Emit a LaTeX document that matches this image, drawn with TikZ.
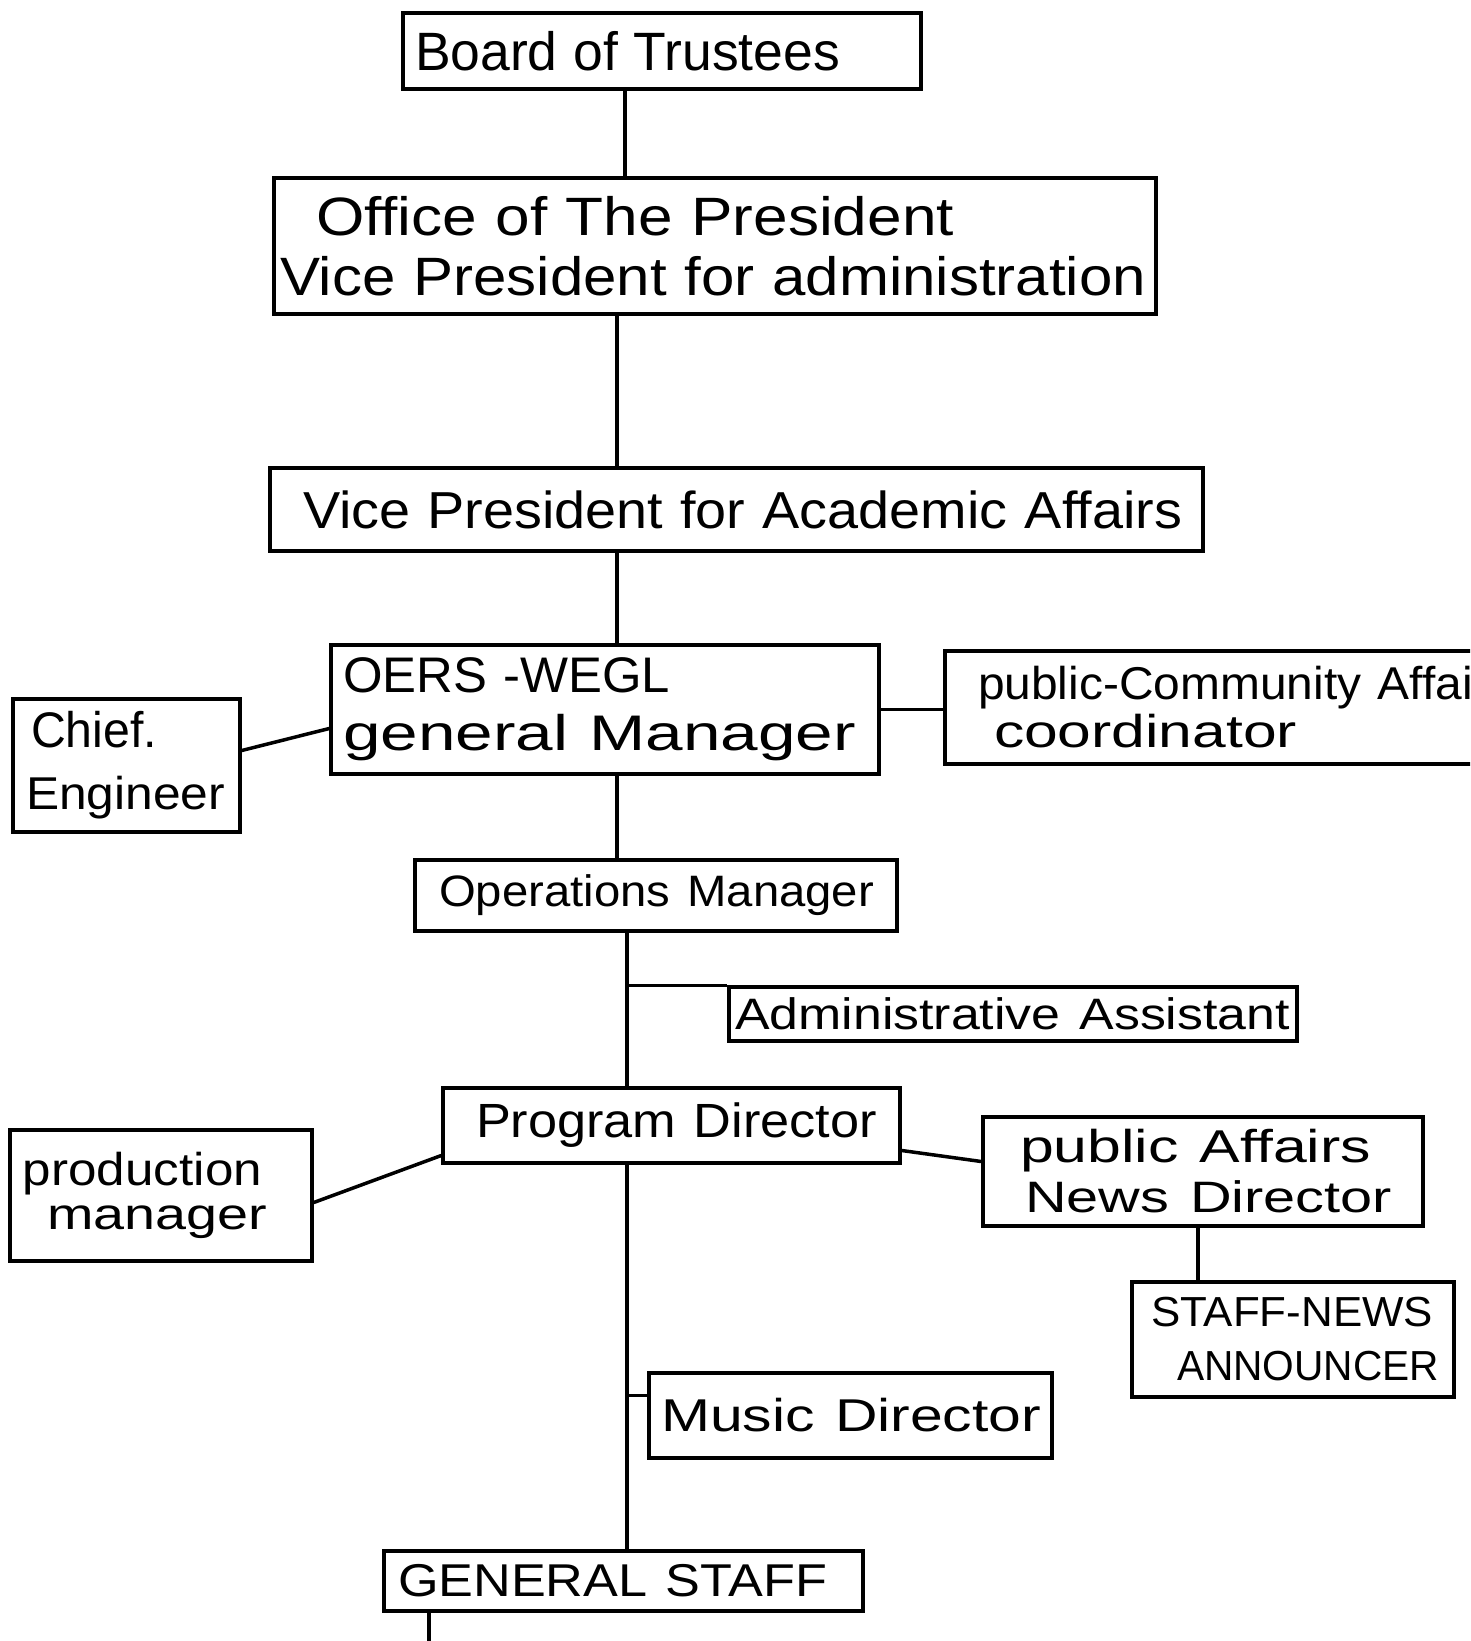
\documentclass[tikz,border=0pt]{standalone}
\usepackage{fontspec}
\usepackage{graphicx}
\setmainfont{Liberation Sans}
% one line of text: font size, target width, text (width scaled, height kept)
\newcommand\txtline[3]{{\fontsize{#1}{#1}\selectfont\resizebox{#2pt}{\height}{#3}}}
\tikzset{
  box/.style={draw, line width=3.5pt, rectangle, inner sep=0pt, align=left,
    font=\fontsize{48}{58}\selectfont},
  lsk/.style={font=\fontsize{48}{#1}\selectfont},
  link/.style={line width=3.5pt},
}
\begin{document}
\lineskiplimit=-200pt
\begin{tikzpicture}[x=1pt,y=-1pt]
\useasboundingbox (0,0) rectangle (1470,1641);
\fill[white] (0,0) rectangle (1470,1641);
\clip (0,0) rectangle (1470,1641);

\node[box, minimum width=518pt, minimum height=76pt, text width=518pt] (board) at (662,51)
  {\hspace*{12pt}\txtline{54}{425}{Board of Trustees}};
\node[box, lsk=60, minimum width=882pt, minimum height=136pt, text width=882pt] (office) at (715,246)
  {\hspace*{42pt}\txtline{54}{638}{Office of The President}\\
   \hspace*{6pt}\txtline{54}{866}{Vice President for administration}};
\node[box, minimum width=933pt, minimum height=83pt, text width=933pt] (vpaa) at (736.5,509.5)
  {\hspace*{33pt}\txtline{52}{879}{Vice President for Academic Affairs}};
\node[box, lsk=58, minimum width=548pt, minimum height=129pt, text width=548pt] (gm) at (605,709.5)
  {\hspace*{12pt}\txtline{50}{327}{OERS -WEGL}\\
   \hspace*{12pt}\txtline{50}{513}{general Manager}};
\node[box, lsk=62, minimum width=227pt, minimum height=133pt, text width=227pt] (chief) at (126.5,765.5)
  {\hspace*{18pt}\txtline{50}{126}{Chief.}\\
   \hspace*{13pt}\txtline{46}{199}{Engineer}};
\node[box, lsk=48, minimum width=575pt, minimum height=113pt, text width=575pt] (coord) at (1232.5,707.5)
  {\hspace*{33pt}\txtline{46}{535}{public-Community Affairs}\\
   \hspace*{49pt}\txtline{46}{303}{coordinator}};
\node[box, minimum width=482pt, minimum height=71pt, text width=482pt] (ops) at (656,895.5)
  {\hspace*{24pt}\txtline{44}{435}{Operations Manager}};
\node[box, minimum width=568pt, minimum height=54pt, text width=568pt] (admin) at (1013,1014)
  {\hspace*{6pt}\txtline{44}{555}{Administrative Assistant}};
\node[box, minimum width=457pt, minimum height=75pt, text width=457pt] (program) at (671.5,1125.5)
  {\hspace*{33pt}\txtline{48}{401}{Program Director}};
\node[box, lsk=44, minimum width=302pt, minimum height=131pt, text width=302pt] (production) at (161,1195.5)
  {\hspace*{13pt}\txtline{46}{239}{production}\\
   \hspace*{37pt}\txtline{44}{220}{manager}};
\node[box, lsk=50, minimum width=440pt, minimum height=109pt, text width=440pt] (news) at (1203,1171.5)
  {\hspace*{37pt}\txtline{46}{351}{public Affairs}\\
   \hspace*{42pt}\txtline{44}{367}{News Director}};
\node[box, lsk=54, minimum width=322pt, minimum height=115pt, text width=322pt] (staff) at (1293,1339.5)
  {\hspace*{19pt}\txtline{42}{282}{STAFF-NEWS}\\
   \hspace*{45pt}\txtline{42}{262}{ANNOUNCER}};
\node[box, minimum width=403pt, minimum height=85pt, text width=403pt] (music) at (850.5,1415.5)
  {\hspace*{12pt}\txtline{46}{380}{Music Director}};
\node[box, minimum width=479pt, minimum height=60pt, text width=479pt] (general) at (623.5,1581)
  {\hspace*{14pt}\txtline{46}{429}{GENERAL STAFF}};

\coordinate (s1) at (625,0);
\coordinate (s2) at (617,0);
\coordinate (s3) at (627,0);
\coordinate (s4) at (1198,0);
\coordinate (bottomend) at (429,1641);
\coordinate (mus) at ([yshift=20pt]music.west);

\draw[link] (s1 |- board.south) -- (s1 |- office.north);
\draw[link] (s2 |- office.south) -- (s2 |- vpaa.north);
\draw[link] (s2 |- vpaa.south) -- (s2 |- gm.north);
\draw[link] (s2 |- gm.south) -- (s2 |- ops.north);
\draw[link] (s3 |- ops.south) -- (s3 |- program.north);
\draw[link] (s3 |- program.south) -- (s3 |- general.north);
\draw[link] (bottomend |- general.south) -- (bottomend);
\draw[link] (s3 |- admin.north west) -- (admin.north west);
\draw[link] (mus -| s3) -- (mus);
\draw[link] ([yshift=15pt]chief.east) -- ([yshift=-19pt]gm.west);
\draw[link] ([yshift=-7pt]production.east) -- ([yshift=-30pt]program.west);
\draw[link] ([yshift=-25pt]program.east) -- ([yshift=10pt]news.west);
\draw[link] (gm.east) -- (gm.east -| coord.west);
\draw[link] (s4 |- news.south) -- (s4 |- staff.north);
\end{tikzpicture}
\end{document}
